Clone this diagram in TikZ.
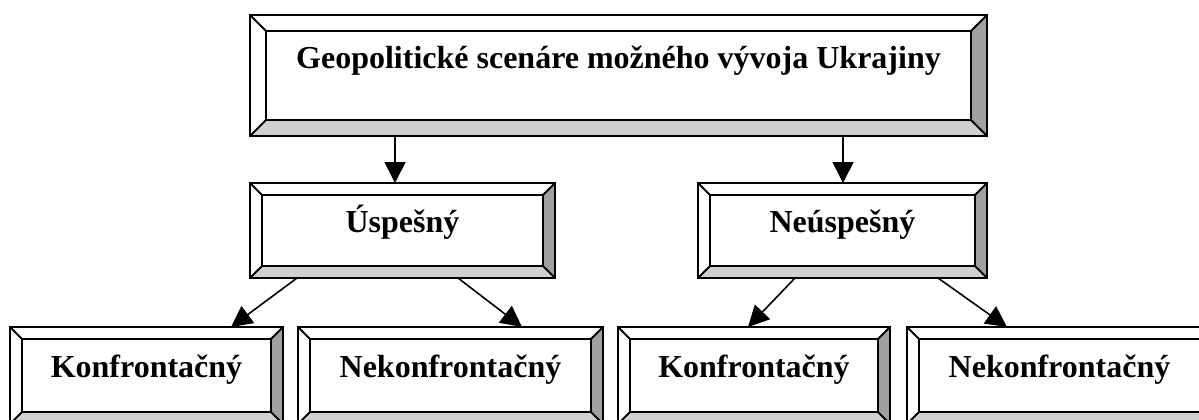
\documentclass[tikz,border=0pt]{standalone}
\usepackage{fontspec}
\setmainfont{Liberation Serif}
\usetikzlibrary{arrows.meta}

\definecolor{bevellow}{HTML}{D0D0D0}
\definecolor{bevelside}{HTML}{A0A0A0}

\tikzset{
  frame/.style={line width=1pt, line join=miter},
  lbl/.style={anchor=base, inner sep=0pt, font=\fontsize{16}{19}\selectfont\bfseries},
  link/.style={line width=0.8pt, -{Triangle[length=10.5pt, width=10.5pt]}},
}

% name, x1, y1, x2, y2, inset (pixel units, y downwards)
\newcommand{\bevelbox}[6]{%
  \coordinate (#1-nw) at (#2,#3);
  \coordinate (#1-ne) at (#4,#3);
  \coordinate (#1-sw) at (#2,#5);
  \coordinate (#1-se) at (#4,#5);
  \coordinate (#1-inw) at (#2+#6,#3+#6);
  \coordinate (#1-ine) at (#4-#6,#3+#6);
  \coordinate (#1-isw) at (#2+#6,#5-#6);
  \coordinate (#1-ise) at (#4-#6,#5-#6);
  \fill[white] (#1-nw) rectangle (#1-se);
  \fill[bevellow] (#1-sw) -- (#1-se) -- (#1-ise) -- (#1-isw) -- cycle;
  \fill[bevelside] (#1-ne) -- (#1-se) -- (#1-ise) -- (#1-ine) -- cycle;
  \draw[frame] (#1-nw) rectangle (#1-se);
  \draw[frame] (#1-inw) rectangle (#1-ise);
  \draw[frame] (#1-nw) -- (#1-inw) (#1-ne) -- (#1-ine)
               (#1-sw) -- (#1-isw) (#1-se) -- (#1-ise);
}

\begin{document}
\begin{tikzpicture}[x=0.5pt, y=-0.5pt]
  \useasboundingbox (0,0) rectangle (1199,419);
  \clip (0,0) rectangle (1199,419);

  % boxes
  \bevelbox{geobox}{250}{15}{987}{136}{16}
  \bevelbox{uspbox}{250}{183}{555}{278}{12}
  \bevelbox{neuspbox}{698}{183}{987}{278}{12}
  \bevelbox{konfAbox}{10}{327}{283}{424}{12}
  \bevelbox{nekonfAbox}{298}{327}{603}{424}{12}
  \bevelbox{konfBbox}{618}{327}{890}{424}{12}
  \bevelbox{nekonfBbox}{907}{327}{1212}{424}{12}

  % labels
  \node[lbl] (geo) at (618.5,68) {Geopolitické scenáre možného vývoja Ukrajiny};
  \node[lbl] (usp) at (402.5,232) {Úspešný};
  \node[lbl] (neusp) at (842.5,232) {Neúspešný};
  \node[lbl] (konfA) at (146.5,377) {Konfrontačný};
  \node[lbl] (nekonfA) at (450.5,377) {Nekonfrontačný};
  \node[lbl] (konfB) at (754,377) {Konfrontačný};
  \node[lbl] (nekonfB) at (1059.5,377) {Nekonfrontačný};

  % connector ends
  \coordinate (geo-l) at (395,136);
  \coordinate (geo-r) at (843,136);
  \coordinate (usp-in) at (395,183);
  \coordinate (neusp-in) at (843,183);
  \coordinate (usp-l) at (297,278);
  \coordinate (usp-r) at (458,278);
  \coordinate (neusp-l) at (795,278);
  \coordinate (neusp-r) at (938,278);
  \coordinate (konfA-in) at (231,327);
  \coordinate (nekonfA-in) at (522,327);
  \coordinate (konfB-in) at (748,327);
  \coordinate (nekonfB-in) at (1007,327);

  \draw[link] (geo-l) -- (usp-in);
  \draw[link] (geo-r) -- (neusp-in);
  \draw[link] (usp-l) -- (konfA-in);
  \draw[link] (usp-r) -- (nekonfA-in);
  \draw[link] (neusp-l) -- (konfB-in);
  \draw[link] (neusp-r) -- (nekonfB-in);
\end{tikzpicture}
\end{document}
